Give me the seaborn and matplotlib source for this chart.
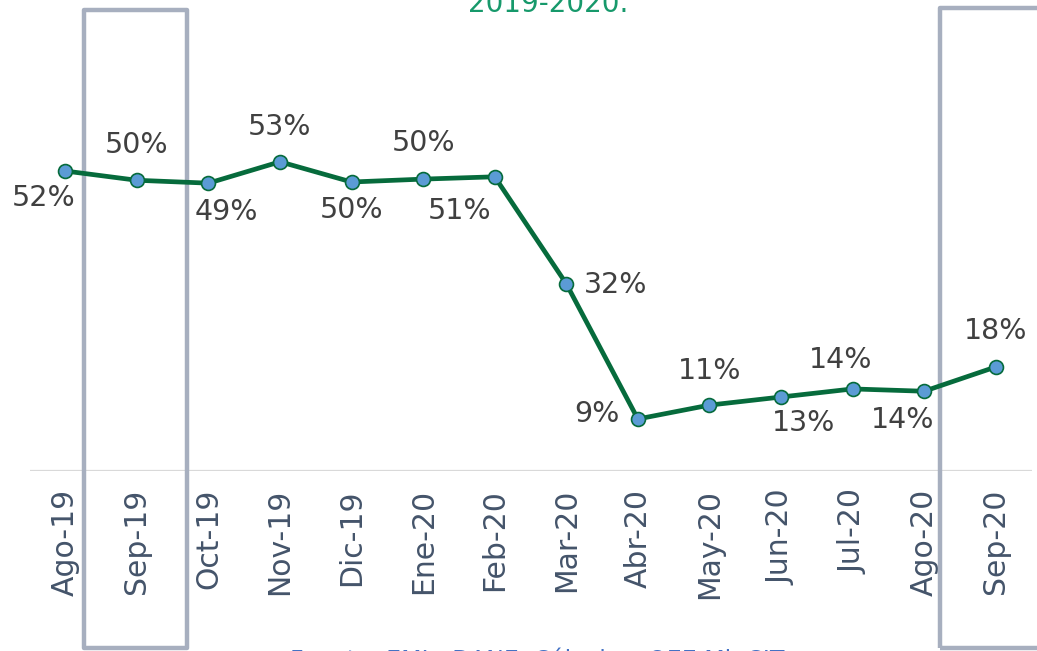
import numpy as np
import pandas as pd
import seaborn as sns
import matplotlib.pyplot as plt
from matplotlib.patches import Rectangle

# months and share values (%)
months = ['Ago-19', 'Sep-19', 'Oct-19', 'Nov-19', 'Dic-19', 'Ene-20', 'Feb-20',
          'Mar-20', 'Abr-20', 'May-20', 'Jun-20', 'Jul-20', 'Ago-20', 'Sep-20']
values = [51.9, 50.3, 49.8, 53.5, 50.0, 50.5, 50.9,
          32.4, 9.0, 11.4, 12.8, 14.2, 13.8, 18.0]
labels = ['52%', '50%', '49%', '53%', '50%', '50%', '51%',
          '32%', '9%', '11%', '13%', '14%', '14%', '18%']
# label offsets in pixels (dx, dy) relative to each point
offsets = [(-22, -27), (0, 35), (18, -29), (0, 35), (0, -28), (0, 36), (-35, -34),
           (49, -1), (-41, 5), (0, 34), (23, -26), (-12, 29), (-22, -29), (0, 36)]

df = pd.DataFrame({'mes': months, 'valor': values})

sns.set_style("white")
plt.rcParams['font.family'] = ['DejaVu Sans']

fig = plt.figure(figsize=(10.37, 6.51), dpi=100)
ax = fig.add_axes([29.5 / 1037, 1 - 471 / 651, 1002 / 1037, 433.5 / 651])

sns.lineplot(data=df, x='mes', y='valor', ax=ax, color='#066b3c', linewidth=3.4,
             marker='o', markersize=10, markerfacecolor='#5b9bd5',
             markeredgecolor='#066b3c', markeredgewidth=1.2, sort=False, zorder=5)

for i, (v, lab, off) in enumerate(zip(values, labels, offsets)):
    ax.annotate(lab, (i, v), xytext=off, textcoords='offset pixels',
                ha='center', va='center', fontsize=20.5, color='#404040')

ax.set_xlim(-0.5, len(months) - 0.5)
ax.set_ylim(0, 75)
ax.axhline(0, color='#d9d9d9', linewidth=1.6, zorder=1)
for s in ax.spines.values():
    s.set_visible(False)
ax.set_yticks([])
ax.set_xlabel('')
ax.set_ylabel('')
ax.tick_params(axis='x', length=0, pad=13, labelsize=21.5, labelcolor='#44546a')
plt.setp(ax.get_xticklabels(), rotation=90, va='top', ha='center')

# highlight boxes around Sep-19 and Sep-20
for x0, x1, top in [(0.265, 1.70, 79.8), (12.22, 14.3, 80.1)]:
    ax.add_patch(Rectangle((x0, -30.7), x1 - x0, top + 30.7, fill=False,
                           edgecolor='#a7afbf', linewidth=3.2, clip_on=False,
                           joinstyle='round', zorder=3))

fig.text(548 / 1037, 1 - 12 / 651, '2019-2020.', ha='center', va='baseline',
         fontsize=20, color='#17996b')
fig.text(540 / 1037, 1 - 649.5 / 651, 'Fuente: EMI - DANE. Cálculos: OEE MinCIT.',
         ha='center', va='top', fontsize=17, color='#4472c4')

plt.savefig('out.png', dpi=100)
plt.close()
